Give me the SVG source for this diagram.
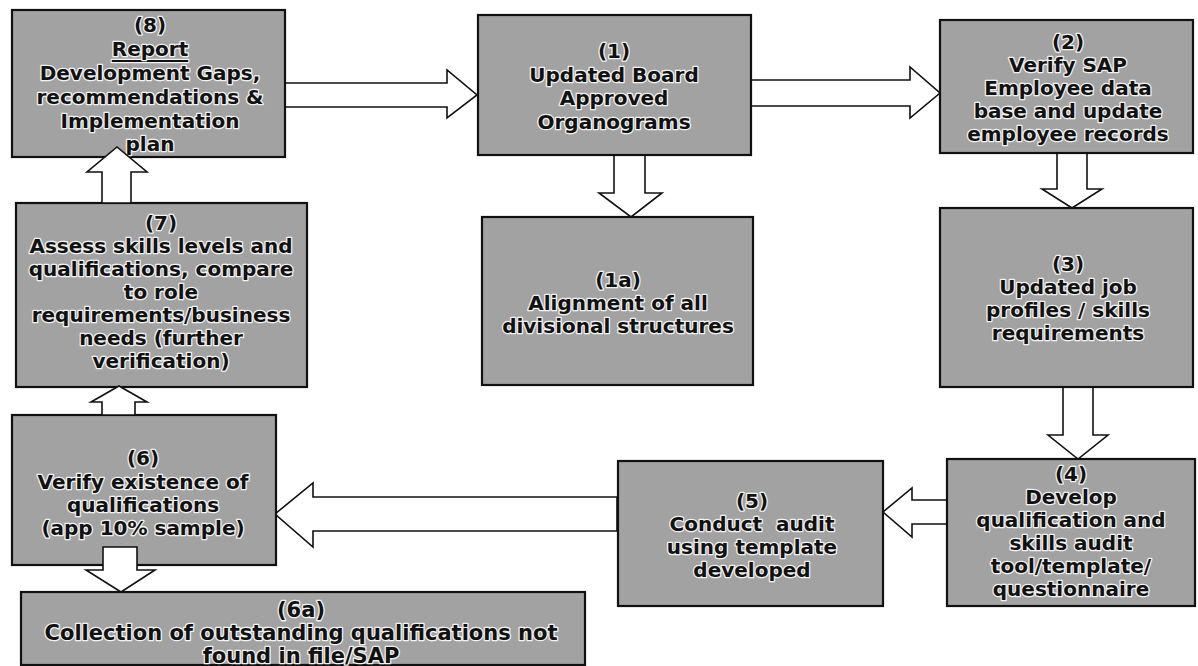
<svg xmlns="http://www.w3.org/2000/svg" width="1198" height="666" viewBox="0 0 1198 666">
<defs>
<style>
.box{fill:#a2a2a2;stroke:#111;stroke-width:2.2}
.arr{fill:#fff;stroke:#111;stroke-width:1.6;stroke-linejoin:miter}
.t{font-family:"DejaVu Sans","Verdana",sans-serif;font-weight:bold;font-size:20px;fill:#111;stroke:#f2f2f2;stroke-width:2.6;paint-order:stroke;stroke-linejoin:round;text-anchor:middle;dominant-baseline:central}
.big{font-size:21px}
</style>
</defs>
<rect width="1198" height="666" fill="#fff"/>
<g id="connectors">
<polygon class="arr" points="285,83 447,83 447,70 477,95 447,118 447,107 285,107"/>
<polygon class="arr" points="751,80 910,80 910,67 940,93 910,118 910,106 751,106"/>
<polygon class="arr" points="614,155 614,193 599,193 631,217 662,193 645,193 645,155"/>
<polygon class="arr" points="1057,153 1057,189 1042,189 1072,208 1102,189 1087,189 1087,153"/>
<polygon class="arr" points="1063,387 1063,435 1048,435 1078,459 1108,435 1093,435 1093,387"/>
<polygon class="arr" points="947,500 912,500 912,488 883,512 912,537 912,524 947,524"/>
<polygon class="arr" points="617,497 313,497 313,483 275,514 313,547 313,531 617,531"/>
</g>
<g id="n8"><rect class="box" x="12" y="10" width="273" height="147"/>
<text class="t"><tspan x="150" y="25">(8)</tspan><tspan x="150" y="49" text-decoration="underline">Report</tspan><tspan x="150" y="73">Development Gaps,</tspan><tspan x="150" y="97">recommendations &amp;</tspan><tspan x="150" y="121">Implementation</tspan><tspan x="150" y="144">plan</tspan></text></g>
<g id="n1"><rect class="box" x="478" y="15" width="273" height="140"/>
<text class="t"><tspan x="614" y="51">(1)</tspan><tspan x="614" y="75">Updated Board</tspan><tspan x="614" y="98">Approved</tspan><tspan x="614" y="122">Organograms</tspan></text></g>
<g id="n2"><rect class="box" x="940" y="20" width="253" height="133"/>
<text class="t"><tspan x="1068" y="42">(2)</tspan><tspan x="1068" y="65">Verify SAP</tspan><tspan x="1068" y="88">Employee data</tspan><tspan x="1068" y="111">base and update</tspan><tspan x="1068" y="134">employee records</tspan></text></g>
<g id="n1a"><rect class="box" x="482" y="217" width="271" height="168"/>
<text class="t"><tspan x="618" y="280">(1a)</tspan><tspan x="618" y="303">Alignment of all</tspan><tspan x="618" y="326">divisional structures</tspan></text></g>
<g id="n3"><rect class="box" x="940" y="208" width="253" height="179"/>
<text class="t"><tspan x="1068" y="264">(3)</tspan><tspan x="1068" y="287">Updated job</tspan><tspan x="1068" y="310">profiles / skills</tspan><tspan x="1068" y="333">requirements</tspan></text></g>
<g id="n7"><rect class="box" x="16" y="203" width="291" height="184"/>
<text class="t"><tspan x="161" y="223">(7)</tspan><tspan x="161" y="246">Assess skills levels and</tspan><tspan x="161" y="269">qualifications, compare</tspan><tspan x="161" y="292">to role</tspan><tspan x="161" y="315">requirements/business</tspan><tspan x="161" y="338">needs (further</tspan><tspan x="161" y="361">verification)</tspan></text></g>
<polygon class="arr" points="102,203 102,172 87,172 117,147 147,172 131,172 131,203"/>
<g id="n6"><rect class="box" x="12" y="415" width="264" height="150"/>
<text class="t"><tspan x="143" y="458">(6)</tspan><tspan x="143" y="482">Verify existence of</tspan><tspan x="143" y="505">qualifications</tspan><tspan x="143" y="528">(app 10% sample)</tspan></text></g>
<g id="n5"><rect class="box" x="618" y="461" width="265" height="145"/>
<text class="t"><tspan x="752" y="501">(5)</tspan><tspan x="752" y="524">Conduct&#160; audit</tspan><tspan x="752" y="547">using template</tspan><tspan x="752" y="570">developed</tspan></text></g>
<g id="n4"><rect class="box" x="947" y="459" width="248" height="147"/>
<text class="t"><tspan x="1071" y="474">(4)</tspan><tspan x="1071" y="497">Develop</tspan><tspan x="1071" y="520">qualification and</tspan><tspan x="1071" y="543">skills audit</tspan><tspan x="1071" y="566">tool/template/</tspan><tspan x="1071" y="589">questionnaire</tspan></text></g>
<g id="n6a"><rect class="box" x="21" y="592" width="564" height="73"/>
<text class="t big"><tspan x="301" y="610">(6a)</tspan><tspan x="301" y="633">Collection of outstanding qualifications not</tspan><tspan x="301" y="656">found in file/SAP</tspan></text></g>
<g id="connectors-overlay">
<polygon class="arr" points="102,415 102,402 91,402 119,386 147,402 135,402 135,415"/>
<polygon class="arr" points="103,547 103,570 86,570 121,592 155,570 137,570 137,547"/>
</g>
</svg>
